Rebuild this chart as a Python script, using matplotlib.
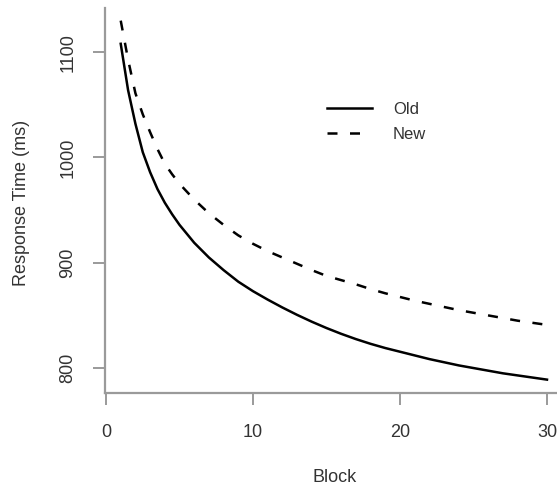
import matplotlib
matplotlib.use("Agg")
import matplotlib.pyplot as plt

# values (half steps where the curves bend hard)
block = [1, 1.5, 2, 2.5, 3, 3.5, 4, 4.5, 5, 6, 7, 8, 9, 10,
         11, 12, 13, 14, 15, 16, 17, 18, 19, 20,
         21, 22, 23, 24, 25, 26, 27, 28, 29, 30]
rt_old = [1108, 1064, 1032, 1005, 986, 970, 957, 946, 936, 919, 905, 893, 882, 873,
          865, 857.5, 850.5, 844, 838, 832.5, 827.5, 823, 819, 815.5,
          812, 808.5, 805.5, 802.5, 800, 797.5, 795, 793, 791, 789]
rt_new = [1130, 1093, 1061, 1041, 1024, 1008, 994, 984, 975, 960, 947, 936, 926, 918,
          911, 905, 899, 893, 887.5, 883.5, 879.5, 875, 871, 867.5,
          864, 861, 858, 855, 852.5, 850, 847.5, 845, 843, 841]
xticks = [0, 10, 20, 30]
yticks = [800, 900, 1000, 1100]

plt.rcParams['font.family'] = ['Liberation Sans', 'DejaVu Sans']
W, H = 557, 488
fig = plt.figure(figsize=(W / 100, H / 100), dpi=100)
# axes box in pixels: left 105, right 557, top 8, bottom 393
ax = fig.add_axes([105 / W, 1 - 393 / H, (557 - 105) / W, (393 - 8) / H])

ax.plot(block, rt_old, color='black', lw=1.8, label='Old')
ax.plot(block, rt_new, color='black', lw=1.8, linestyle=(0, (4, 5)), label='New')

ax.set_xlim(-0.07, 30.68)
ax.set_ylim(776.3, 1142)
ax.set_xticks(xticks)
ax.set_yticks(yticks)

axis_col = '#9a9a9a'
txt_col = '#333333'
for s in ['top', 'right']:
    ax.spines[s].set_visible(False)
for s in ['left', 'bottom']:
    ax.spines[s].set_color(axis_col)
    ax.spines[s].set_linewidth(1.6)
ax.tick_params(axis='both', direction='out', length=8.6, width=1.4,
               color=axis_col, labelcolor=txt_col, labelsize=13)
ax.tick_params(axis='x', pad=14)
ax.tick_params(axis='y', pad=12)
for lab in ax.get_yticklabels():
    lab.set_rotation(90)
    lab.set_va('center')

ax.set_xlabel('Block', fontsize=13, color=txt_col)
ax.set_ylabel('Response Time (ms)', fontsize=13, color=txt_col)
ax.xaxis.set_label_coords(335 / W, 1 - 469 / H, transform=fig.transFigure)
ax.yaxis.set_label_coords(30 / W, 1 - 203 / H, transform=fig.transFigure)

leg = ax.legend(loc='upper left', bbox_to_anchor=(326.7 / W, 1 - 102 / H),
                bbox_transform=fig.transFigure, frameon=False, fontsize=12,
                borderpad=0, borderaxespad=0, handlelength=2.7,
                handletextpad=1.28, labelspacing=0.57)
for t in leg.get_texts():
    t.set_color(txt_col)

fig.savefig('out.png', dpi=100)
